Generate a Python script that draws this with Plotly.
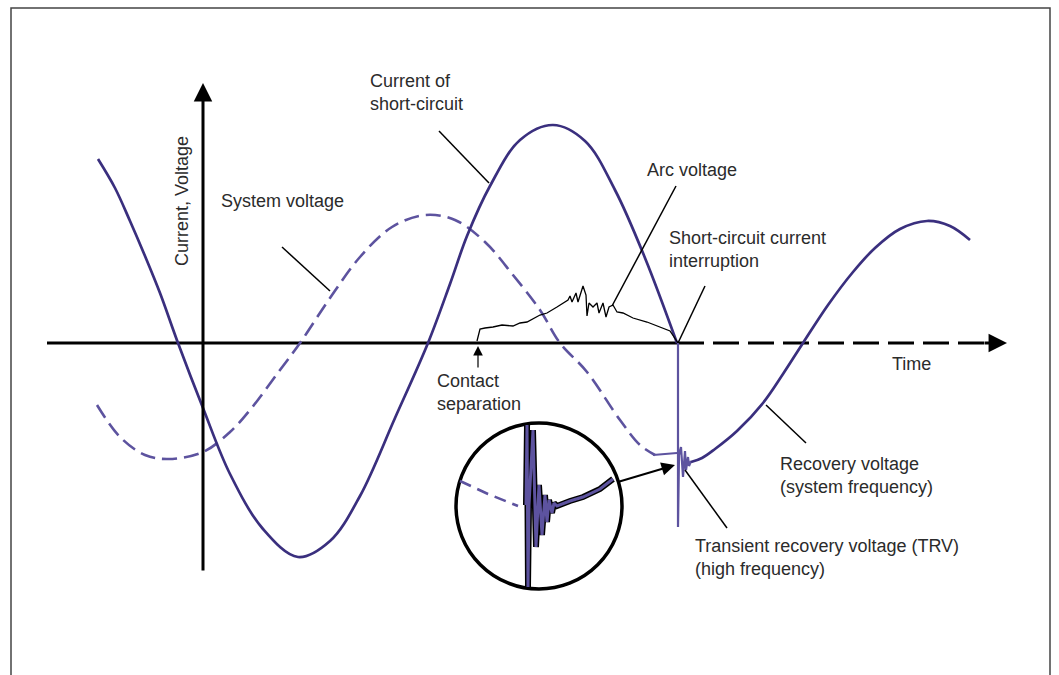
import plotly.graph_objects as go

# diagram units: x = time from the vertical axis, y = amplitude above the time axis

current_t = [-105, -88, -73, -58, -43, -25, 0, 27, 60, 95, 127, 157, 192, 225, 247, 264, 287, 317, 350, 382, 412, 442, 474]
current_v = [184, 155, 122, 87, 50, 0, -65, -131, -186, -214, -198, -153, -75, 0, 59, 107, 157, 203, 218, 202, 153, 85, 0]

voltage_t = [-106, -83, -58, -35, 0, 27, 47, 77, 97, 127, 157, 189, 222, 252, 282, 310, 337, 357, 384, 417, 437, 452]
voltage_v = [-62, -94, -112, -116, -109, -89, -67, -27, 0, 45, 86, 116, 128, 123, 101, 68, 33, 0, -29, -77, -102, -112]

bridge_t = [450, 474]
bridge_v = [-112, -110]

arc_t = [274, 277, 282, 290, 299, 310, 317, 324, 337, 344, 354, 365, 367, 369, 373, 375, 380, 383, 384,
         386, 390, 394, 396, 400, 403, 406, 410, 414, 420, 430, 444, 457, 467, 475]
arc_v = [2, 14, 15, 16, 18, 17, 20, 21, 28, 30, 36, 43, 47, 41, 50, 41, 57, 48, 27,
         40, 36, 40, 30, 40, 26, 36, 38, 31, 30, 25, 21, 16, 12, 0]

trv_t = [475, 475, 476, 478, 480, 482, 483, 485, 486, 488]
trv_v = [0, -184, -112, -104, -134, -108, -127, -114, -123, -118]

recovery_t = [488, 499, 512, 534, 560, 580, 600, 625, 650, 672, 697, 724, 747, 767]
recovery_v = [-119, -115, -106, -88, -60, -31, 0, 38, 71, 95, 114, 122, 117, 103]

# zoomed view of the TRV
inset_dash_t = [257, 285, 315]
inset_dash_v = [-138, -151, -163]
inset_trv_t = [323, 324, 325, 326, 330, 333, 336, 339, 342, 344, 346, 349, 351, 354, 367, 380, 397, 410]
inset_trv_v = [-162, -82, -244, -162, -87, -204, -142, -192, -152, -179, -157, -170, -160, -163, -158, -154, -146, -136]

leader_t = [236, 286, None, 79, 127, None, 473, 409, None, 502, 475, None, 563, 603, None, 482, 524]
leader_v = [212, 160, None, 96, 52, None, 157, 37, None, 57, 0, None, -62, -100, None, -127, -185]

labels = ["Current of<br>short-circuit", "System voltage", "Arc voltage",
          "Short-circuit current<br>interruption", "Time", "Contact<br>separation",
          "Recovery voltage<br>(system frequency)",
          "Transient recovery voltage (TRV)<br>(high frequency)"]
label_t = [165, 16, 442, 464, 687, 232, 575, 490]
label_v = [251, 142, 173, 94, -21, -49.5, -132, -214.5]

DARK = "#3a2f7e"
LIGHT = "#5d539f"
TXT = "#2b2b2b"
FONT = "Liberation Sans, Arial, sans-serif"

fig = go.Figure()

def line(t, v, color, width, dash="solid", shape="linear"):
    fig.add_trace(go.Scatter(x=t, y=v, mode="lines", hoverinfo="skip", showlegend=False,
                             line=dict(color=color, width=width, dash=dash, shape=shape)))

# axes
line([-156, 475], [0, 0], "black", 3)
line([475, 792], [0, 0], "black", 3, dash="26px,9px")

line(voltage_t, voltage_v, LIGHT, 2.6, dash="15px,7px", shape="spline")
line(bridge_t, bridge_v, LIGHT, 2)
line(current_t, current_v, DARK, 2.7, shape="spline")
line(arc_t, arc_v, "black", 1.3)
line(trv_t, trv_v, LIGHT, 2.2)
line(recovery_t, recovery_v, DARK, 2.7, shape="spline")
line(leader_t, leader_v, "black", 1.5)

# inset
line(inset_dash_t, inset_dash_v, LIGHT, 2.6, dash="12px,7px")
line(inset_trv_t, inset_trv_v, "black", 6)
line(inset_trv_t, inset_trv_v, LIGHT, 3)

fig.add_shape(type="circle", x0=253, x1=419, y0=-246, y1=-80, layer="below",
              line=dict(color="black", width=3.5))
fig.add_shape(type="rect", x0=-192, x1=847, y0=-345, y1=335, layer="below",
              line=dict(color="#444", width=1.5))

arrows = [
    dict(x=0, y=260, ax=0, ay=-229, w=3, s=1.23),       # vertical axis
    dict(x=804, y=0, ax=780, ay=0, w=3, s=1.23),        # time axis head
    dict(x=275, y=-3, ax=275, ay=-26, w=1.2, s=1.6),    # contact separation
    dict(x=472, y=-122, ax=415, ay=-139, w=2, s=1.35),  # inset pointer
]
for a in arrows:
    fig.add_annotation(x=a["x"], y=a["y"], ax=a["ax"], ay=a["ay"], xref="x", yref="y",
                       axref="x", ayref="y", text="", showarrow=True, arrowhead=2,
                       arrowsize=a["s"], arrowwidth=a["w"], arrowcolor="black", standoff=0)

for txt, t, v in zip(labels, label_t, label_v):
    fig.add_annotation(x=t, y=v, text=txt, showarrow=False, xanchor="left", yanchor="middle",
                       align="left", font=dict(family=FONT, size=18, color=TXT))

fig.add_annotation(x=-21, y=142, text="Current, Voltage", showarrow=False, textangle=-90,
                   xanchor="center", yanchor="middle", font=dict(family=FONT, size=18, color=TXT))

fig.update_layout(
    width=1059, height=675,
    margin=dict(l=0, r=0, t=0, b=0),
    paper_bgcolor="white", plot_bgcolor="white",
    xaxis=dict(range=[-203, 856], visible=False, fixedrange=True),
    yaxis=dict(range=[-332, 343], visible=False, fixedrange=True),
)

fig.write_html("out.html", config={"displayModeBar": False},
               post_script="document.body.style.margin='0';")
